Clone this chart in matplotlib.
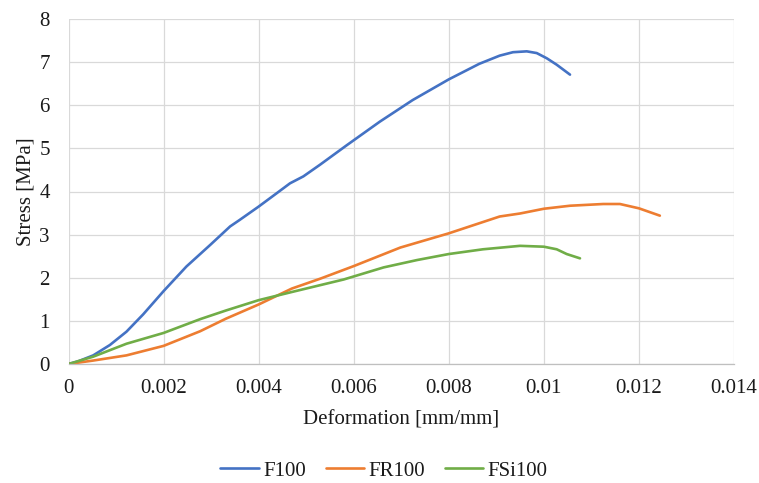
import matplotlib
matplotlib.use("Agg")
import matplotlib.pyplot as plt

# Stress–strain curves for three mixes
f100_strain = [0, 0.0002, 0.00052, 0.00087, 0.00122, 0.00157, 0.002, 0.00248, 0.00298,
               0.0034, 0.0036, 0.004, 0.00438, 0.00466, 0.00494, 0.00529, 0.00585,
               0.00655, 0.00724, 0.008, 0.00864, 0.00907, 0.00935, 0.00964, 0.00985,
               0.01006, 0.01027, 0.01055]
f100_stress = [0, 0.06, 0.20, 0.44, 0.75, 1.15, 1.69, 2.26, 2.76,
               3.19, 3.34, 3.65, 3.96, 4.19, 4.35, 4.62, 5.07,
               5.62, 6.12, 6.60, 6.96, 7.15, 7.23, 7.25, 7.21,
               7.09, 6.94, 6.71]

fr100_strain = [0, 0.00052, 0.00122, 0.002, 0.00277, 0.00331, 0.004, 0.0047, 0.0053,
                0.006, 0.00698, 0.008, 0.00907, 0.0095, 0.01, 0.01055, 0.01125,
                0.0116, 0.012, 0.01244]
fr100_stress = [0, 0.08, 0.20, 0.42, 0.76, 1.05, 1.38, 1.75, 1.98,
                2.27, 2.70, 3.03, 3.42, 3.49, 3.60, 3.67, 3.71,
                3.71, 3.61, 3.44]

fsi100_strain = [0, 0.00052, 0.00122, 0.002, 0.00277, 0.00331, 0.004, 0.0047, 0.00579,
                 0.00663, 0.00733, 0.008, 0.00872, 0.0095, 0.01, 0.01027, 0.01048,
                 0.01076]
fsi100_stress = [0, 0.17, 0.47, 0.72, 1.04, 1.24, 1.48, 1.67, 1.96,
                 2.24, 2.41, 2.55, 2.66, 2.74, 2.72, 2.66, 2.55,
                 2.45]

series_names = ["F100", "FR100", "FSi100"]
series_colors = ["#4472C4", "#ED7D31", "#70AD47"]

x_ticks = [0, 0.002, 0.004, 0.006, 0.008, 0.01, 0.012, 0.014]
x_tick_labels = ["0", "0.002", "0.004", "0.006", "0.008", "0.01", "0.012", "0.014"]
y_ticks = [0, 1, 2, 3, 4, 5, 6, 7, 8]

plt.rcParams["font.family"] = ["Liberation Serif", "DejaVu Serif"]
text_color = "#1a1a1a"
fs = 15

fig = plt.figure(figsize=(7.59, 4.83), dpi=100)
ax = fig.add_axes([68.5 / 759, 1 - 364 / 483, (734 - 68.5) / 759, (364 - 19) / 483])

data = [(f100_strain, f100_stress), (fr100_strain, fr100_stress), (fsi100_strain, fsi100_stress)]
for (xs, ys), name, color in zip(data, series_names, series_colors):
    ax.plot(xs, ys, color=color, lw=1.9, label=name, solid_capstyle="round",
            solid_joinstyle="round")

ax.set_xlim(0, 0.014)
ax.set_ylim(0, 8)
ax.set_xticks(x_ticks)
ax.set_xticklabels(x_tick_labels)
ax.set_yticks(y_ticks)
ax.tick_params(axis="both", length=0, labelsize=fs, labelcolor=text_color)
ax.tick_params(axis="x", pad=11)
ax.tick_params(axis="y", pad=13.5)

ax.grid(True, color="#D9D9D9", lw=0.9)
ax.set_axisbelow(True)
for side in ("left", "right", "top"):
    ax.spines[side].set_visible(False)
ax.spines["bottom"].set_color("#BFBFBF")
ax.spines["bottom"].set_linewidth(0.9)

ax.set_xlabel("Deformation [mm/mm]", fontsize=fs, color=text_color, va="center")
ax.xaxis.set_label_coords(0.5, (364 - 420) / 345)
ax.set_ylabel("Stress [MPa]", fontsize=fs, color=text_color, va="center")
ax.yaxis.set_label_coords((25.5 - 68.5) / 665.5, 0.5)

fig.legend(loc="center", bbox_to_anchor=(384 / 759, 1 - 471 / 483), ncol=3,
           frameon=False, fontsize=fs, handlelength=1.85, handletextpad=0.2,
           columnspacing=0.95, labelcolor=text_color)

fig.savefig("out.png", dpi=100)
